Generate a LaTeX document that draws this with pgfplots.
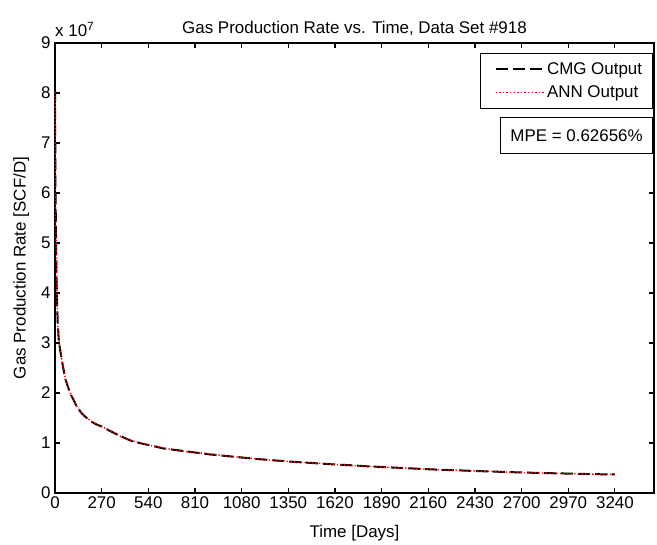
\documentclass[border=0pt]{standalone}
\usepackage{fontspec}
\setmainfont{Liberation Sans}
\usepackage{pgfplots}
\pgfplotsset{compat=1.18}

% CMG simulator output (SCF/D vs days)
\pgfplotstableread{
t q
0 8.05e7
1 7.30e7
2 6.60e7
3 6.00e7
5 5.40e7
7 4.80e7
9 4.30e7
12 3.80e7
16 3.40e7
21 3.10e7
28 2.90e7
35 2.75e7
45 2.55e7
60 2.28e7
75 2.12e7
90 1.98e7
120 1.77e7
150 1.61e7
180 1.51e7
210 1.43e7
240 1.37e7
270 1.33e7
330 1.22e7
390 1.12e7
450 1.03e7
540 0.96e7
630 0.89e7
720 0.85e7
810 0.81e7
900 0.77e7
990 0.74e7
1080 0.71e7
1170 0.68e7
1260 0.655e7
1350 0.63e7
1440 0.61e7
1530 0.59e7
1620 0.57e7
1710 0.555e7
1800 0.535e7
1890 0.52e7
1980 0.505e7
2070 0.49e7
2160 0.475e7
2250 0.463e7
2340 0.452e7
2430 0.44e7
2520 0.43e7
2610 0.42e7
2700 0.41e7
2790 0.402e7
2880 0.395e7
2970 0.388e7
3060 0.381e7
3150 0.375e7
3240 0.37e7
}\cmgdata

% ANN prediction
\pgfplotstableread{
t q
0 8.02e7
1 7.34e7
2 6.57e7
3 6.04e7
5 5.37e7
7 4.83e7
9 4.28e7
12 3.82e7
16 3.38e7
21 3.12e7
28 2.88e7
35 2.76e7
45 2.54e7
60 2.29e7
75 2.11e7
90 1.99e7
120 1.76e7
150 1.62e7
180 1.50e7
210 1.44e7
240 1.36e7
270 1.33e7
330 1.23e7
390 1.11e7
450 1.04e7
540 0.96e7
630 0.90e7
720 0.84e7
810 0.81e7
900 0.78e7
990 0.74e7
1080 0.71e7
1170 0.685e7
1260 0.65e7
1350 0.63e7
1440 0.61e7
1530 0.595e7
1620 0.57e7
1710 0.55e7
1800 0.538e7
1890 0.52e7
1980 0.503e7
2070 0.492e7
2160 0.475e7
2250 0.46e7
2340 0.454e7
2430 0.44e7
2520 0.432e7
2610 0.418e7
2700 0.41e7
2790 0.404e7
2880 0.393e7
2970 0.388e7
3060 0.383e7
3150 0.374e7
3240 0.371e7
}\anndata

\begin{document}
\begin{tikzpicture}[font=\fontsize{17}{20}\selectfont]
\begin{axis}[
    scale only axis,
    width=599bp,
    height=450bp,
    xmin=0, xmax=3466,
    ymin=0, ymax=9e7,
    xtick={0,270,...,3240},
    ytick={0,1e7,2e7,3e7,4e7,5e7,6e7,7e7,8e7,9e7},
    scaled y ticks=base 10:-7,
    ytick scale label code/.code={},
    /pgf/number format/1000 sep={},
    /pgf/number format/assume math mode=true,
    tick align=inside,
    major tick length=5bp,
    axis line style={line width=1.1bp},
    every tick/.style={black, line width=1.1bp},
    yticklabel style={xshift=-1bp},
    title={Gas Production Rate vs. Time, Data Set \#918},
    title style={yshift=-2bp},
    xlabel={Time [Days]},
    ylabel={Gas Production Rate [SCF/D]},
    xlabel style={yshift=-10bp},
    ylabel style={yshift=5bp},
    legend cell align=left,
    legend style={at={(1,1)}, anchor=north east, xshift=-1bp, yshift=-10bp,
        draw=black, line width=0.8bp, fill=white, row sep=6bp,
        inner xsep=9bp, inner ysep=7bp,
        nodes={inner xsep=1.5bp, inner ysep=2bp}},
    legend image code/.code={\path (-5bp,0bp); \draw[#1] (0bp,0bp) -- (49bp,0bp);},
    clip=false,
]
\addplot[black, line width=2bp, dash pattern=on 12bp off 5bp] table[x=t, y=q] {\cmgdata};
\addlegendentry{CMG Output}
\addplot[red, line width=1.4bp, dash pattern=on 1.4bp off 2.2bp] table[x=t, y=q] {\anndata};
\addlegendentry{ANN Output}

\node[anchor=south west, inner sep=0pt] at (rel axis cs:0,1) [yshift=6bp] {x 10\textsuperscript{7}};
\node[draw=black, line width=0.8bp, fill=white, anchor=north east,
    minimum width=152bp, minimum height=36bp, inner sep=0pt]
    at (rel axis cs:1,1) [xshift=-1bp, yshift=-74bp] {MPE = 0.62656\%};
\end{axis}
\path ([xshift=-55bp,yshift=-47bp]current axis.south west)
    rectangle ([xshift=3bp,yshift=43bp]current axis.north east);
\end{tikzpicture}
\end{document}
